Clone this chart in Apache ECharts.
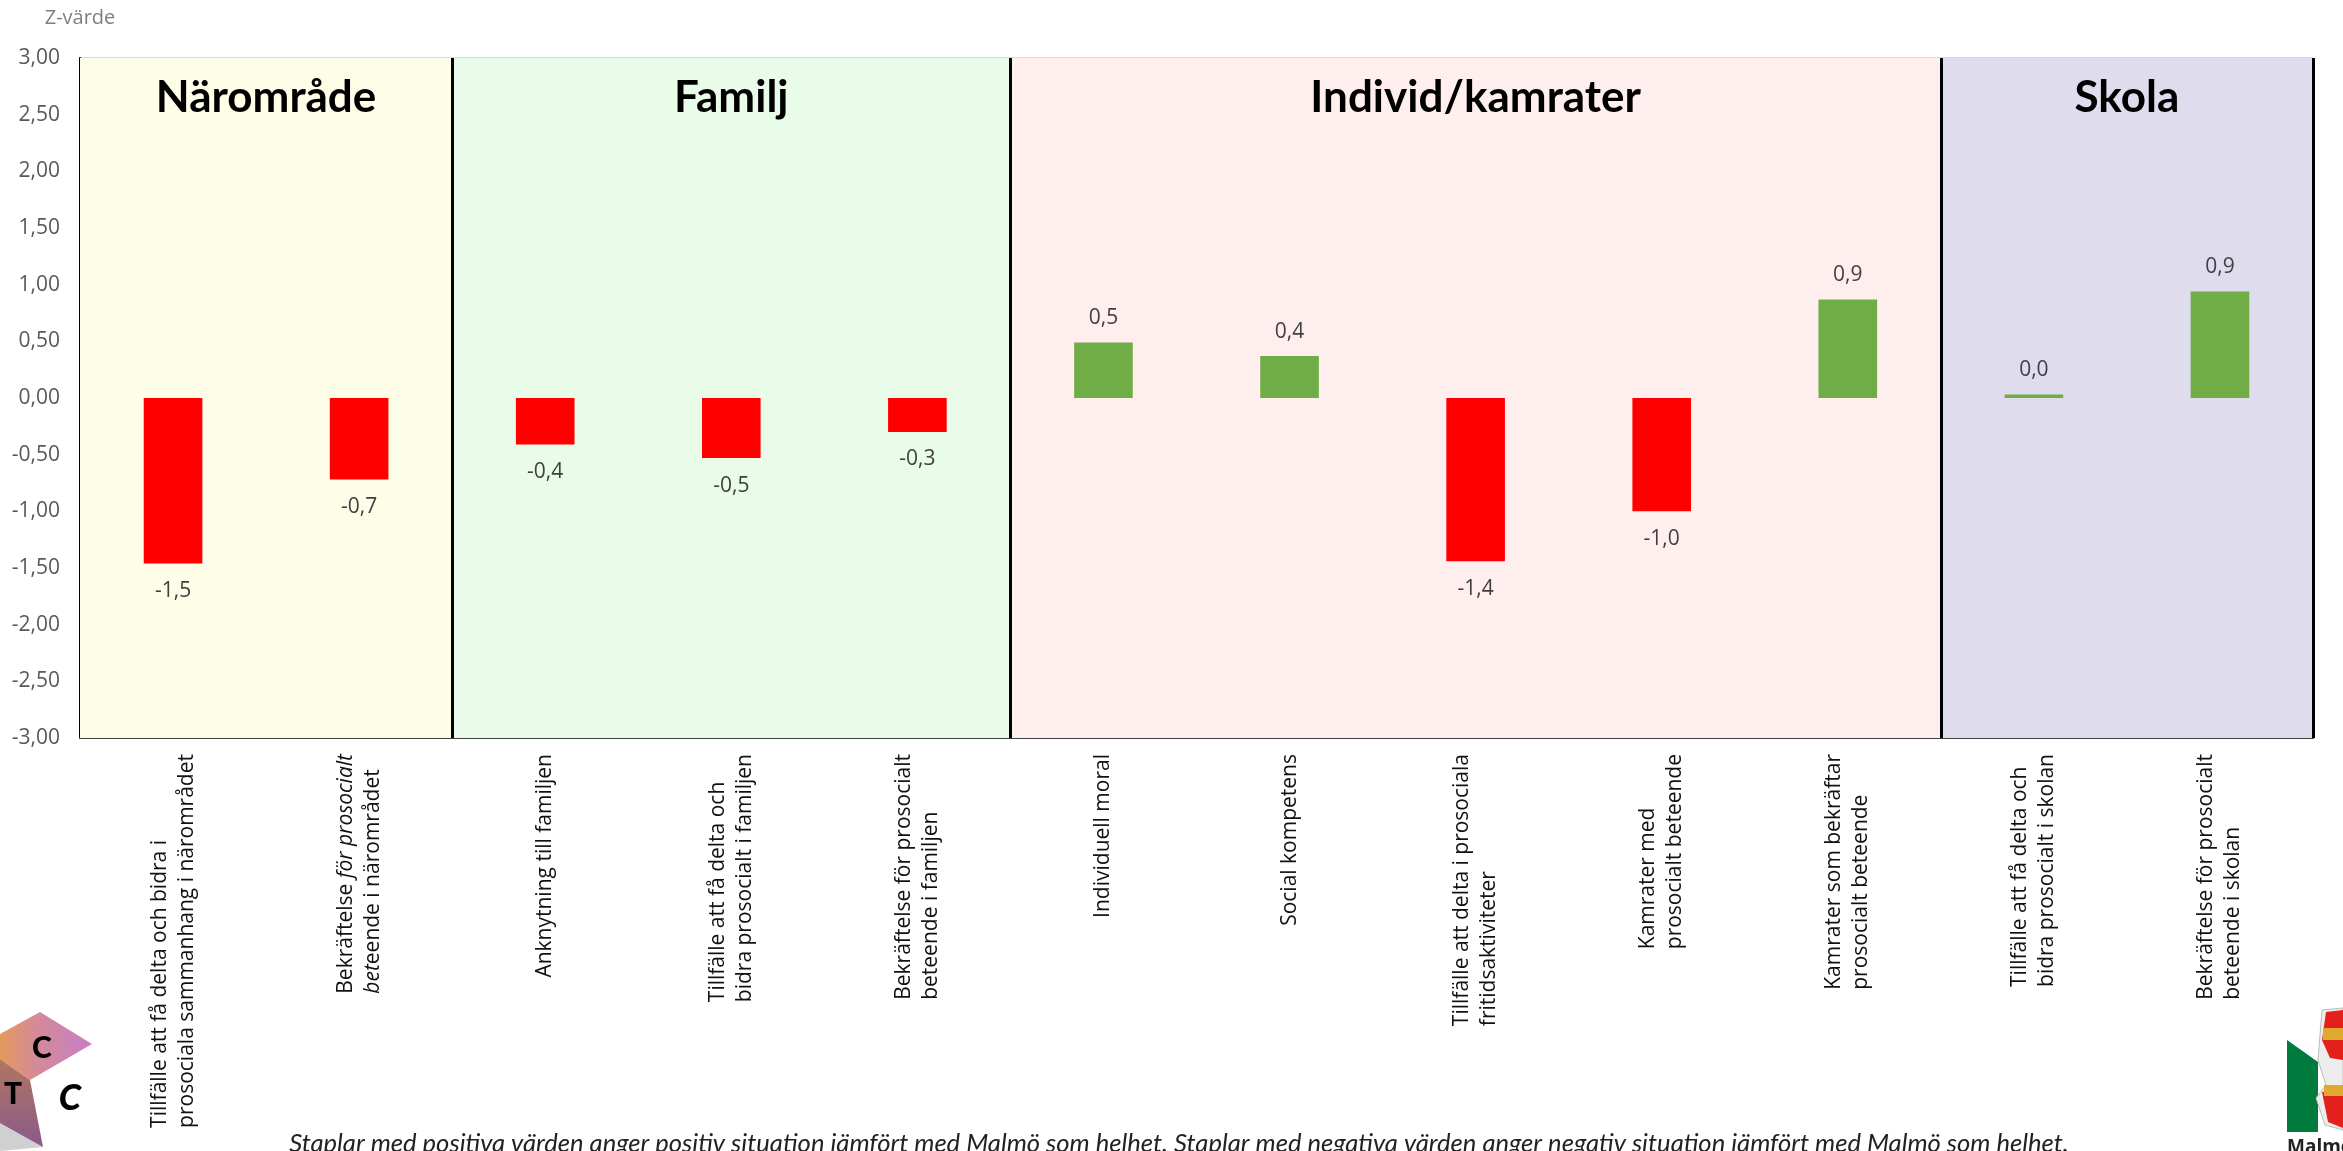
<!DOCTYPE html>
<html><head><meta charset="utf-8">
<script src="https://cdn.jsdelivr.net/npm/echarts@6/dist/echarts.min.js"></script>
<style>html,body{margin:0;padding:0;background:#fff}#c{width:2343px;height:1151px}</style>
</head><body><div id="c"></div><script>
// ---- data ----
const categories = [
  'Tillfälle att få delta och bidra i\nprosociala sammanhang i närområdet',
  'Bekräftelse *för prosocialt*\n*bet*eende i närområdet',
  'Anknytning till familjen',
  'Tillfälle att få delta och\nbidra prosocialt i familjen',
  'Bekräftelse för prosocialt\nbeteende i familjen',
  'Individuell moral',
  'Social kompetens',
  'Tillfälle att delta i prosociala\nfritidsaktiviteter',
  'Kamrater med\nprosocialt beteende',
  'Kamrater som bekräftar\nprosocialt beteende',
  'Tillfälle att få delta och\nbidra prosocialt i skolan',
  'Bekräftelse för prosocialt\nbeteende i skolan'
];
const values = [-1.46, -0.72, -0.41, -0.53, -0.30, 0.49, 0.37, -1.44, -1.00, 0.87, 0.03, 0.94];
const groupNames = ['Närområde', 'Familj', 'Individ/kamrater', 'Skola'];
const groupSizes = [2, 3, 5, 2];
const yMin = -3, yMax = 3, yStep = 0.5;
const yAxisName = 'Z-värde';
const footnote = 'Staplar med positiva värden anger positiv situation jämfört med Malmö som helhet. Staplar med negativa värden anger negativ situation jämfört med Malmö som helhet.';

// ---- styles ----
const groupColors = ['#FEFDE7', '#E9FCE9', '#FFEEEE', '#DFDCED'];
const posColor = '#70AD47', negColor = '#FF0000';

const chart = echarts.init(document.getElementById('c'), null, {renderer: 'canvas'});

let acc = 0;
const areas = [], bounds = [];
groupNames.forEach((g, i) => {
  const s = acc; acc += groupSizes[i];
  areas.push([{name: g, xAxis: s, itemStyle: {color: groupColors[i]}}, {xAxis: acc}]);
  bounds.push({xAxis: acc});
});

const comma = (v, d) => v.toFixed(d).replace('.', ',');
const richLabel = (v) => v.split('\n').map(line =>
  line.split('*').map((seg, i) => seg ? '{' + (i % 2 ? 'i' : 'n') + '|' + seg + '}' : '').join('')
).join('\n');

const labelFont = {fontFamily: 'Open Sans', fontSize: 21, color: '#111', lineHeight: 27, align: 'left'};

chart.setOption({
  animation: false,
  backgroundColor: '#fff',
  grid: {left: 80, right: 30, top: 58, bottom: 413},
  xAxis: [{
    type: 'category', data: categories,
    axisLine: {show: true, onZero: false, lineStyle: {color: '#404040', width: 2}},
    axisTick: {show: false},
    axisLabel: {
      interval: 0, rotate: 90, margin: 16,
      formatter: richLabel,
      rich: {n: labelFont, i: Object.assign({}, labelFont, {fontStyle: 'italic'})}
    },
    splitLine: {show: false}
  }, {
    type: 'value', min: 0, max: categories.length, show: false
  }],
  yAxis: {
    type: 'value', min: yMin, max: yMax, interval: yStep,
    name: yAxisName, nameLocation: 'end', nameGap: 30,
    nameTextStyle: {fontFamily: 'Open Sans', fontSize: 20, color: '#7F7F7F', align: 'center'},
    axisLine: {show: true, lineStyle: {color: '#000', width: 2}},
    axisTick: {show: false},
    axisLabel: {fontFamily: 'Open Sans', fontSize: 21, color: '#595959', margin: 20,
      formatter: v => comma(v, 2)},
    splitLine: {lineStyle: {color: '#D9D9D9', width: 2}}
  },
  series: [{
    type: 'line', xAxisIndex: 1, z: -1, silent: true,
    data: [], showSymbol: false,
    markArea: {
      silent: true,
      label: {show: true, position: 'insideTop', distance: 18,
        fontFamily: 'Lato', fontWeight: 'bold', fontSize: 44, color: '#000'},
      data: areas
    }
  }, {
    type: 'bar', xAxisIndex: 0, barWidth: '31.5%', z: 3,
    data: values.map(v => ({
      value: v,
      itemStyle: {color: v >= 0 ? posColor : negColor},
      label: {position: v >= 0 ? 'top' : 'bottom', distance: v >= 0 ? 14 : 17}
    })),
    label: {show: true, fontFamily: 'Open Sans', fontSize: 21, color: '#404040',
      formatter: p => comma(p.value, 1)}
  }, {
    type: 'line', xAxisIndex: 1, z: 5, silent: true, data: [], showSymbol: false,
    markLine: {
      silent: true, symbol: ['none', 'none'], label: {show: false},
      lineStyle: {color: '#000', width: 3, type: 'solid'},
      data: bounds
    }
  }],
  graphic: [
    {type: 'text', x: 1179, y: 1131,
      style: {text: footnote, fontFamily: 'Lato', fontStyle: 'italic', fontSize: 25.6, fill: '#222', align: 'center'}},
    // CTC cube logo (left)
    {type: 'polygon', shape: {points: [[0, 1118], [43, 1147], [0, 1151]]}, style: {fill: '#D0D0D0'}},
    {type: 'polygon', shape: {points: [[-20, 1045], [40, 1012], [92, 1044], [30, 1080]]},
      style: {fill: new echarts.graphic.LinearGradient(0, 0, 1, 0, [{offset: 0, color: '#EFA23C'}, {offset: 0.5, color: '#D48A98'}, {offset: 1, color: '#C77EC6'}])}},
    {type: 'polygon', shape: {points: [[-20, 1045], [30, 1080], [43, 1147], [-20, 1112]]},
      style: {fill: new echarts.graphic.LinearGradient(0, 0, 0, 1, [{offset: 0, color: '#B87A5A'}, {offset: 1, color: '#8A5A8C'}])}},
    {type: 'text', x: 42, y: 1048, style: {text: 'C', fontFamily: 'Lato', fontWeight: 900, fontSize: 30, fill: '#000', align: 'center', verticalAlign: 'middle'}},
    {type: 'text', x: 13, y: 1094, style: {text: 'T', fontFamily: 'Lato', fontWeight: 900, fontSize: 30, fill: '#000', align: 'center', verticalAlign: 'middle'}},
    {type: 'text', x: 70, y: 1098, style: {text: 'C', fontFamily: 'Lato', fontWeight: 900, fontStyle: 'italic', fontSize: 36, fill: '#000', align: 'center', verticalAlign: 'middle'}},
    // Malmö logo (right)
    {type: 'polygon', shape: {points: [[2287, 1040], [2318, 1062], [2318, 1132], [2287, 1132]]}, style: {fill: '#007A3D'}},
    {type: 'polygon', shape: {points: [[2322, 1010], [2343, 1008], [2343, 1130], [2325, 1125], [2316, 1098], [2326, 1085], [2318, 1060]]}, style: {fill: '#EDEDED', stroke: '#BBB', lineWidth: 1}},
    {type: 'polygon', shape: {points: [[2326, 1012], [2343, 1010], [2343, 1060], [2330, 1058], [2322, 1040]]}, style: {fill: '#E3201B'}},
    {type: 'rect', shape: {x: 2323, y: 1028, width: 20, height: 12}, style: {fill: '#E0A82E'}},
    {type: 'polygon', shape: {points: [[2322, 1092], [2343, 1090], [2343, 1128], [2328, 1122]]}, style: {fill: '#E3201B'}},
    {type: 'rect', shape: {x: 2324, y: 1085, width: 19, height: 11}, style: {fill: '#E0A82E'}},
    {type: 'text', x: 2287, y: 1148, style: {text: 'Malmö', fontFamily: 'Open Sans', fontWeight: 'bold', fontSize: 19, fill: '#222', verticalAlign: 'middle'}}
  ]
});
</script></body></html>
